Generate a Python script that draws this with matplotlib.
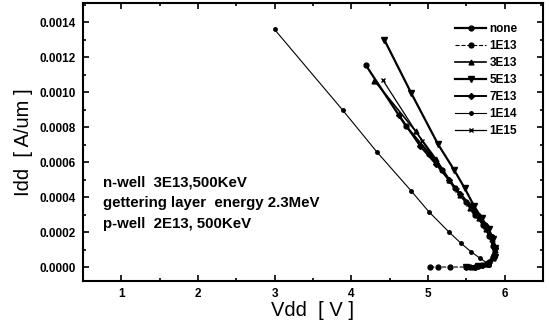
import matplotlib
matplotlib.use("Agg")
import matplotlib.pyplot as plt
from matplotlib.ticker import MultipleLocator, FormatStrFormatter

plt.rcParams['font.family'] = ['Liberation Sans', 'DejaVu Sans']

# series data (Vdd [V], Idd [A/um])
none_v = [4.19, 4.71, 5.02, 5.18, 5.35, 5.50, 5.62, 5.72, 5.80, 5.85, 5.86, 5.80, 5.70, 5.55]
none_i = [0.001154, 0.000808, 0.000646, 0.000556, 0.00045, 0.00037, 0.00030, 0.00024, 0.00018, 0.00012, 0.00007, 0.00003, 0.00001, 0.0]

e13_v = [5.03, 5.13, 5.29, 5.50, 5.65, 5.78, 5.85, 5.87, 5.83, 5.74, 5.60]
e13_i = [0.0, 0.0, 0.0, 0.0, 0.000005, 0.00002, 0.00006, 0.00011, 0.00017, 0.00024, 0.00032]

e3_13_v = [4.30, 4.84, 5.10, 5.28, 5.42, 5.55, 5.66, 5.76, 5.83, 5.87, 5.85, 5.75, 5.60]
e3_13_i = [0.001066, 0.000776, 0.00062, 0.00050, 0.00041, 0.00034, 0.00028, 0.00022, 0.00016, 0.00010, 0.00005, 0.00002, 0.0]

e5_13_v = [4.43, 4.78, 5.13, 5.34, 5.48, 5.60, 5.70, 5.79, 5.85, 5.88, 5.87, 5.80, 5.65, 5.50]
e5_13_i = [0.00130, 0.000996, 0.000703, 0.000556, 0.00045, 0.00035, 0.00028, 0.00022, 0.00016, 0.00011, 0.00006, 0.00002, 0.000005, 0.0]

e7_13_v = [4.62, 4.90, 5.10, 5.27, 5.42, 5.56, 5.67, 5.77, 5.84, 5.88, 5.86, 5.78, 5.62]
e7_13_i = [0.00087, 0.00069, 0.00059, 0.00050, 0.00042, 0.00035, 0.00029, 0.00023, 0.00017, 0.00011, 0.00006, 0.00002, 0.0]

e14_v = [3.00, 3.89, 4.33, 4.78, 5.01, 5.27, 5.43, 5.56, 5.68, 5.78, 5.80, 5.70, 5.55]
e14_i = [0.001358, 0.000896, 0.00066, 0.000436, 0.000317, 0.000202, 0.000136, 0.000088, 0.00005, 0.00002, 0.00001, 0.000003, 0.0]

e15_v = [4.41, 4.92, 5.18, 5.38, 5.52, 5.65, 5.75, 5.83, 5.87, 5.86, 5.80, 5.65, 5.50]
e15_i = [0.00107, 0.000722, 0.000556, 0.00044, 0.00036, 0.00029, 0.00023, 0.00017, 0.00011, 0.00006, 0.00002, 0.000005, 0.0]

labels = ['none', '1E13', '3E13', '5E13', '7E13', '1E14', '1E15']
note_lines = ['n-well  3E13,500KeV', 'gettering layer  energy 2.3MeV', 'p-well  2E13, 500KeV']

fig = plt.figure(figsize=(5.49, 3.23), dpi=100)
ax = fig.add_axes([0.151, 0.130, 0.838, 0.861])

ax.plot(none_v, none_i, '-', color='k', lw=1.6, marker='o', ms=3.5, label=labels[0])
ax.plot(e13_v, e13_i, '--', color='k', lw=0.8, marker='o', ms=3.5, label=labels[1])
ax.plot(e3_13_v, e3_13_i, '-', color='k', lw=1.2, marker='^', ms=3.5, label=labels[2])
ax.plot(e5_13_v, e5_13_i, '-', color='k', lw=1.6, marker='v', ms=4, label=labels[3])
ax.plot(e7_13_v, e7_13_i, '-', color='k', lw=1.4, marker='D', ms=3, label=labels[4])
ax.plot(e14_v, e14_i, '-', color='k', lw=0.8, marker='o', ms=2.5, label=labels[5])
ax.plot(e15_v, e15_i, '-', color='k', lw=0.9, marker='x', ms=3.5, mew=1, label=labels[6])

ax.set_xlim(0.5, 6.5)
ax.set_ylim(-0.00008, 0.00151)
ax.xaxis.set_major_locator(MultipleLocator(1))
ax.xaxis.set_minor_locator(MultipleLocator(0.5))
ax.yaxis.set_major_locator(MultipleLocator(0.0002))
ax.yaxis.set_minor_locator(MultipleLocator(0.0001))
ax.yaxis.set_major_formatter(FormatStrFormatter('%.4f'))
ax.xaxis.set_major_formatter(FormatStrFormatter('%d'))
ax.tick_params(which='both', direction='in', top=True, right=True, width=1.2)
ax.tick_params(which='major', length=4, labelsize=8.5, pad=5)
ax.tick_params(which='minor', length=2.5)
for lab in ax.get_xticklabels() + ax.get_yticklabels():
    lab.set_fontweight('bold')
for s in ax.spines.values():
    s.set_linewidth(1.5)

ax.set_xlabel('Vdd  [ V ]', fontsize=14.5, labelpad=1)
ax.set_ylabel('Idd  [ A/um ]', fontsize=14.5, labelpad=5)

for k, t in enumerate(note_lines):
    ax.text(0.043, 0.356 - k * 0.0755, t, transform=ax.transAxes, fontsize=10.8,
            fontweight='bold', va='center', ha='left')

leg = ax.legend(loc='upper right', frameon=False, fontsize=8.5, handlelength=2.6,
                handletextpad=0.3, labelspacing=0.42, bbox_to_anchor=(0.968, 0.965))
for t in leg.get_texts():
    t.set_fontweight('bold')

fig.savefig('out.png', dpi=100)
